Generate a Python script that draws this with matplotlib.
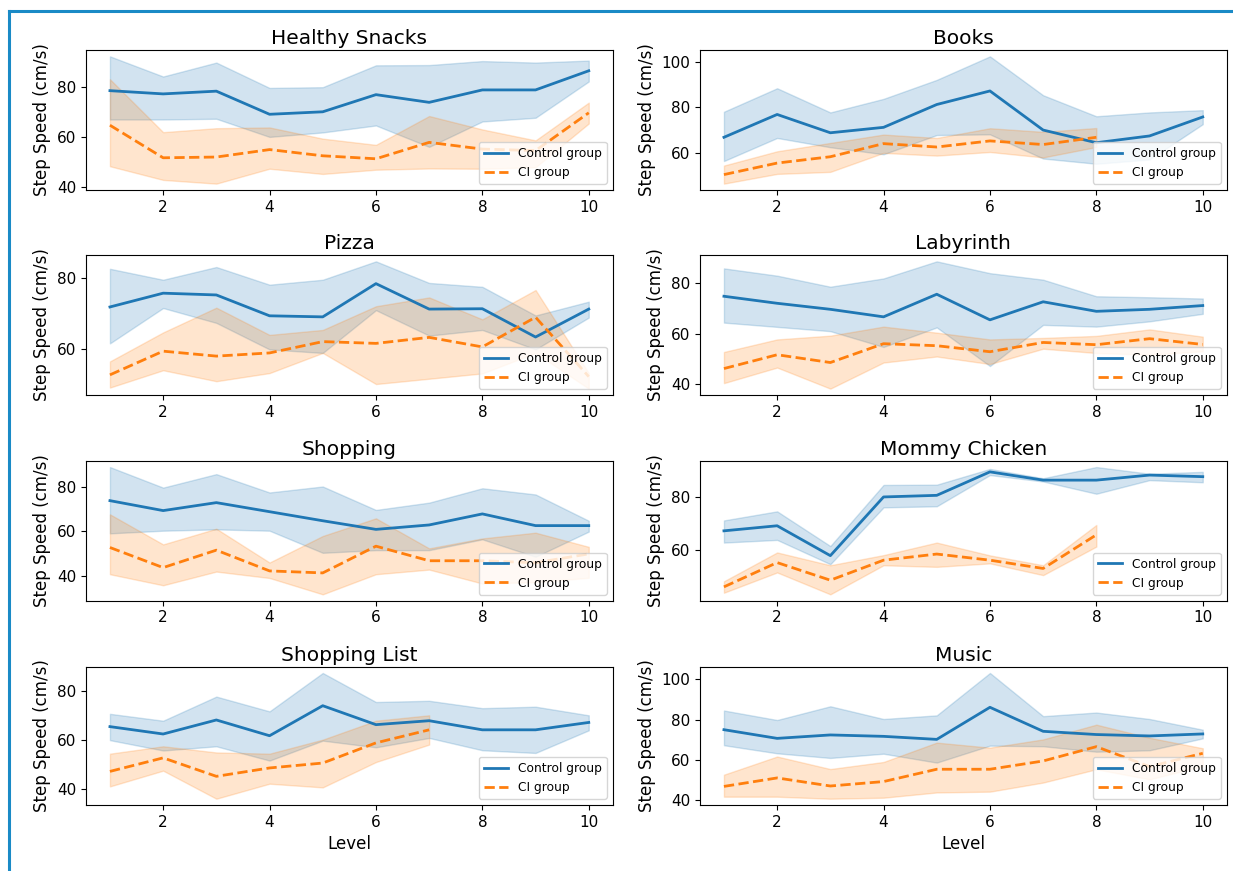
import matplotlib
matplotlib.use("Agg")
import matplotlib.pyplot as plt
from matplotlib.ticker import MultipleLocator
from matplotlib.lines import Line2D

levels = [1, 2, 3, 4, 5, 6, 7, 8, 9, 10]
titles = ["Healthy Snacks", "Books", "Pizza", "Labyrinth",
          "Shopping", "Mommy Chicken", "Shopping List", "Music"]

# Control group: mean, lower CI, upper CI
ctrl_healthy = [78.6, 77.3, 78.4, 69.1, 70.1, 77.0, 73.9, 78.9, 78.9, 86.6]
ctrl_healthy_lo = [67.0, 67.0, 67.3, 60.0, 61.8, 64.6, 56.0, 66.2, 67.7, 82.3]
ctrl_healthy_hi = [92.4, 84.3, 89.9, 79.7, 80.0, 88.8, 88.9, 90.5, 89.9, 90.7]

ctrl_books = [66.8, 76.9, 68.8, 71.2, 81.3, 87.3, 70.0, 64.4, 67.4, 75.8]
ctrl_books_lo = [56.3, 66.5, 62.4, 59.3, 67.8, 68.1, 57.4, 55.1, 57.0, 72.6]
ctrl_books_hi = [78.1, 88.5, 77.8, 83.8, 92.2, 102.6, 85.4, 76.1, 77.8, 78.8]

ctrl_pizza = [71.8, 75.7, 75.2, 69.3, 69.0, 78.4, 71.2, 71.3, 63.3, 71.2]
ctrl_pizza_lo = [61.5, 71.5, 67.3, 59.8, 58.8, 70.9, 63.7, 65.3, 59.8, 68.8]
ctrl_pizza_hi = [82.6, 79.5, 83.1, 78.1, 79.5, 84.7, 78.6, 77.5, 69.4, 73.3]

ctrl_laby = [74.9, 72.1, 69.7, 66.7, 75.7, 65.5, 72.7, 68.9, 69.7, 71.2]
ctrl_laby_lo = [64.4, 62.7, 61.0, 54.7, 62.5, 47.1, 63.5, 62.8, 64.9, 67.9]
ctrl_laby_hi = [86.0, 83.1, 78.7, 82.0, 88.8, 84.1, 81.5, 74.9, 74.5, 74.0]

ctrl_shop = [73.9, 69.4, 73.0, 68.9, 64.8, 60.9, 62.9, 67.9, 62.6, 62.6]
ctrl_shop_lo = [59.1, 60.3, 60.9, 60.3, 50.3, 51.5, 51.5, 56.4, 48.5, 59.9]
ctrl_shop_hi = [89.1, 79.8, 85.9, 77.6, 80.3, 69.7, 73.0, 79.5, 76.7, 64.8]

ctrl_mommy = [67.2, 69.1, 57.9, 79.9, 80.5, 89.3, 86.2, 86.2, 88.1, 87.5]
ctrl_mommy_lo = [62.8, 63.8, 54.7, 76.0, 76.4, 88.1, 85.7, 81.1, 86.2, 85.4]
ctrl_mommy_hi = [71.1, 74.5, 61.5, 84.4, 84.5, 90.4, 86.9, 91.1, 88.6, 89.3]

ctrl_list = [65.4, 62.4, 68.1, 61.7, 73.9, 66.2, 67.8, 64.1, 64.1, 67.1]
ctrl_list_lo = [59.9, 55.7, 57.4, 51.6, 59.7, 57.0, 60.8, 55.8, 54.7, 63.9]
ctrl_list_hi = [70.6, 67.8, 77.6, 71.6, 87.2, 75.4, 75.9, 72.9, 73.5, 70.0]

ctrl_music = [75.0, 70.7, 72.4, 71.7, 70.2, 86.1, 74.2, 72.6, 71.9, 72.9]
ctrl_music_lo = [67.3, 63.3, 61.0, 63.1, 58.7, 67.1, 66.8, 64.1, 64.8, 70.7]
ctrl_music_hi = [84.5, 79.8, 86.6, 80.3, 82.1, 103.1, 81.7, 83.5, 80.3, 75.0]

# CI group: mean, lower CI, upper CI
ci_healthy = [64.7, 51.6, 51.9, 54.9, 52.4, 51.2, 57.8, 55.1, 54.5, 69.7]
ci_healthy_lo = [48.2, 42.7, 41.2, 47.2, 45.1, 46.8, 47.3, 47.2, 47.8, 65.4]
ci_healthy_hi = [83.2, 61.9, 63.5, 63.8, 59.3, 56.8, 68.4, 63.0, 58.6, 73.8]

ci_books = [50.3, 55.4, 58.2, 64.0, 62.5, 65.2, 63.6, 66.8]
ci_books_lo = [46.3, 50.6, 51.5, 59.9, 58.7, 60.3, 57.9, 62.5]
ci_books_hi = [54.3, 60.6, 64.3, 68.0, 66.5, 70.8, 69.2, 70.9]

ci_pizza = [52.6, 59.3, 57.9, 58.8, 62.0, 61.5, 63.2, 60.5, 68.9, 52.1]
ci_pizza_lo = [49.0, 53.9, 50.8, 53.1, 58.8, 50.0, 51.5, 53.0, 58.8, 48.7]
ci_pizza_hi = [56.4, 64.6, 71.6, 63.9, 65.3, 72.0, 74.5, 68.3, 76.6, 53.1]

ci_laby = [46.1, 51.6, 48.5, 56.0, 55.2, 52.8, 56.5, 55.6, 58.0, 55.7]
ci_laby_lo = [40.3, 46.5, 38.1, 48.5, 50.9, 47.9, 54.0, 52.3, 51.6, 53.0]
ci_laby_hi = [52.7, 57.7, 59.2, 62.8, 60.4, 57.7, 58.3, 59.1, 61.7, 58.8]

ci_shop = [52.7, 43.6, 51.5, 42.1, 41.2, 53.3, 46.7, 46.7, 45.8, 49.8]
ci_shop_lo = [40.6, 35.6, 41.8, 38.9, 31.5, 40.6, 42.7, 36.4, 37.0, 39.0]
ci_shop_hi = [67.7, 54.1, 61.2, 45.9, 57.9, 65.9, 52.3, 56.8, 59.4, 53.0]

ci_mommy = [46.2, 55.3, 48.7, 56.2, 58.5, 56.2, 53.1, 65.7]
ci_mommy_lo = [44.0, 51.6, 43.4, 54.3, 53.7, 55.0, 50.6, 61.3]
ci_mommy_hi = [48.3, 59.1, 54.3, 58.1, 62.8, 58.0, 54.3, 69.4]

ci_list = [47.2, 52.7, 45.2, 48.6, 50.6, 58.8, 64.1]
ci_list_lo = [41.1, 47.5, 36.1, 42.2, 40.7, 51.0, 58.1]
ci_list_hi = [54.4, 57.4, 54.9, 54.4, 60.1, 67.8, 70.0]

ci_music = [46.9, 51.1, 47.1, 49.3, 55.4, 55.4, 59.5, 66.6, 56.7, 63.3]
ci_music_lo = [41.8, 41.8, 40.8, 41.3, 43.9, 44.3, 48.8, 55.4, 50.4, 57.0]
ci_music_hi = [52.7, 61.7, 55.5, 59.0, 68.6, 66.1, 70.2, 77.5, 71.0, 65.8]

ctrl_sets = [
    (ctrl_healthy, ctrl_healthy_lo, ctrl_healthy_hi),
    (ctrl_books, ctrl_books_lo, ctrl_books_hi),
    (ctrl_pizza, ctrl_pizza_lo, ctrl_pizza_hi),
    (ctrl_laby, ctrl_laby_lo, ctrl_laby_hi),
    (ctrl_shop, ctrl_shop_lo, ctrl_shop_hi),
    (ctrl_mommy, ctrl_mommy_lo, ctrl_mommy_hi),
    (ctrl_list, ctrl_list_lo, ctrl_list_hi),
    (ctrl_music, ctrl_music_lo, ctrl_music_hi),
]
ci_sets = [
    (ci_healthy, ci_healthy_lo, ci_healthy_hi),
    (ci_books, ci_books_lo, ci_books_hi),
    (ci_pizza, ci_pizza_lo, ci_pizza_hi),
    (ci_laby, ci_laby_lo, ci_laby_hi),
    (ci_shop, ci_shop_lo, ci_shop_hi),
    (ci_mommy, ci_mommy_lo, ci_mommy_hi),
    (ci_list, ci_list_lo, ci_list_hi),
    (ci_music, ci_music_lo, ci_music_hi),
]

BLUE = "#1f77b4"
ORANGE = "#ff7f0e"

W, H = 1233, 871
fig = plt.figure(figsize=(W / 100, H / 100), dpi=100)

col_left = [86, 700]
col_right = [612.7, 1226.7]
row_top = [50, 255, 460.7, 666.7]
row_bot = [190, 395, 600.7, 805]

for i, title in enumerate(titles):
    r, c = divmod(i, 2)
    x0 = col_left[c] / W
    w = (col_right[c] - col_left[c]) / W
    y0 = 1 - row_bot[r] / H
    h = (row_bot[r] - row_top[r]) / H
    ax = fig.add_axes([x0, y0, w, h])
    m, lo, hi = ctrl_sets[i]
    xs = levels[:len(m)]
    ax.plot(xs, m, color=BLUE, lw=2, label="Control group")
    ax.fill_between(xs, lo, hi, color=BLUE, alpha=0.2, lw=1)
    m, lo, hi = ci_sets[i]
    xs = levels[:len(m)]
    ax.plot(xs, m, color=ORANGE, lw=2, ls="--", label="CI group")
    ax.fill_between(xs, lo, hi, color=ORANGE, alpha=0.2, lw=1)
    ax.set_title(title, fontsize=14.5, pad=4)
    ax.set_ylabel("Step Speed (cm/s)", fontsize=12)
    ax.yaxis.set_major_locator(MultipleLocator(20))
    ax.xaxis.set_major_locator(MultipleLocator(2))
    ax.tick_params(labelsize=11)
    ax.legend(loc="lower right", fontsize=8.8)
    if r == 3:
        ax.set_xlabel("Level", fontsize=12)

# blue frame edges of the reference image
fig.add_artist(Line2D([8.5 / W, 8.5 / W], [0, 1 - 11 / H], color="#1a8ac6", lw=2.2,
                      transform=fig.transFigure))
fig.add_artist(Line2D([8.5 / W, 1], [1 - 11 / H, 1 - 11 / H], color="#1a8ac6", lw=2.2,
                      transform=fig.transFigure))

fig.savefig("out.png", dpi=100)
